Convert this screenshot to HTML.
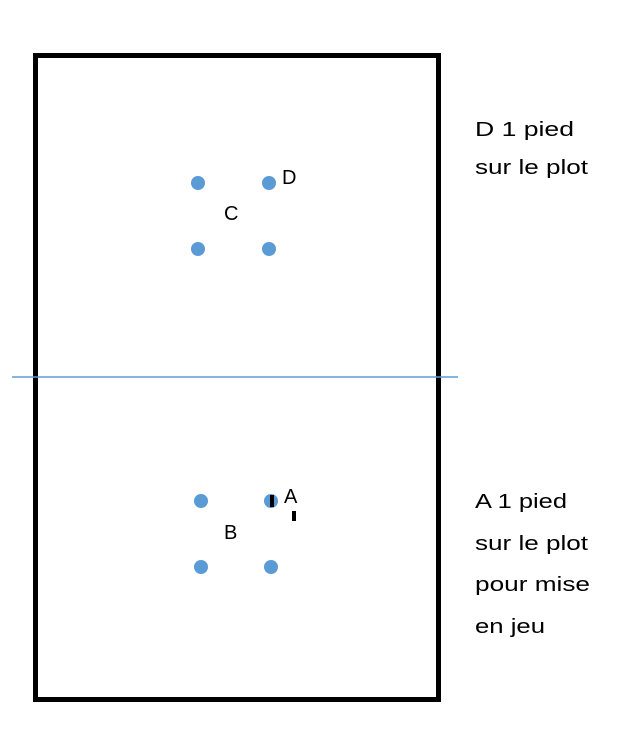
<!DOCTYPE html>
<html><head><meta charset="utf-8"><style>html,body{margin:0;padding:0;background:#fff;}</style></head>
<body>
<svg width="626" height="740" xmlns="http://www.w3.org/2000/svg" style="display:block">
<rect x="35.5" y="55.5" width="403" height="644" fill="#fff" stroke="#000" stroke-width="5"/>
<line x1="12" y1="377" x2="458" y2="377" stroke="#5b9bd5" stroke-width="1.5"/>
<g fill="#5b9bd5">
<circle cx="198" cy="183" r="7"/><circle cx="269" cy="183" r="7"/>
<circle cx="198" cy="249" r="7"/><circle cx="269" cy="249" r="7"/>
<circle cx="201" cy="501" r="7"/><circle cx="271" cy="501" r="7"/>
<circle cx="201" cy="567" r="7"/><circle cx="271" cy="567" r="7"/>
</g>
<rect x="270" y="495" width="4" height="12" fill="#000"/>
<rect x="292" y="511" width="4" height="10" fill="#000"/>
<g font-family="Liberation Sans, sans-serif" font-size="20" fill="#000">
<text x="282" y="184">D</text>
<text x="224" y="220">C</text>
<text x="284" y="503">A</text>
<text x="224" y="539">B</text>
<text x="475" y="136" textLength="99" lengthAdjust="spacingAndGlyphs">D 1 pied</text>
<text x="475" y="174" textLength="113" lengthAdjust="spacingAndGlyphs">sur le plot</text>
<text x="475" y="508" textLength="92" lengthAdjust="spacingAndGlyphs">A 1 pied</text>
<text x="475" y="550" textLength="113" lengthAdjust="spacingAndGlyphs">sur le plot</text>
<text x="475" y="591" textLength="115" lengthAdjust="spacingAndGlyphs">pour mise</text>
<text x="475" y="633" textLength="70" lengthAdjust="spacingAndGlyphs">en jeu</text>
</g>
</svg>
</body></html>
